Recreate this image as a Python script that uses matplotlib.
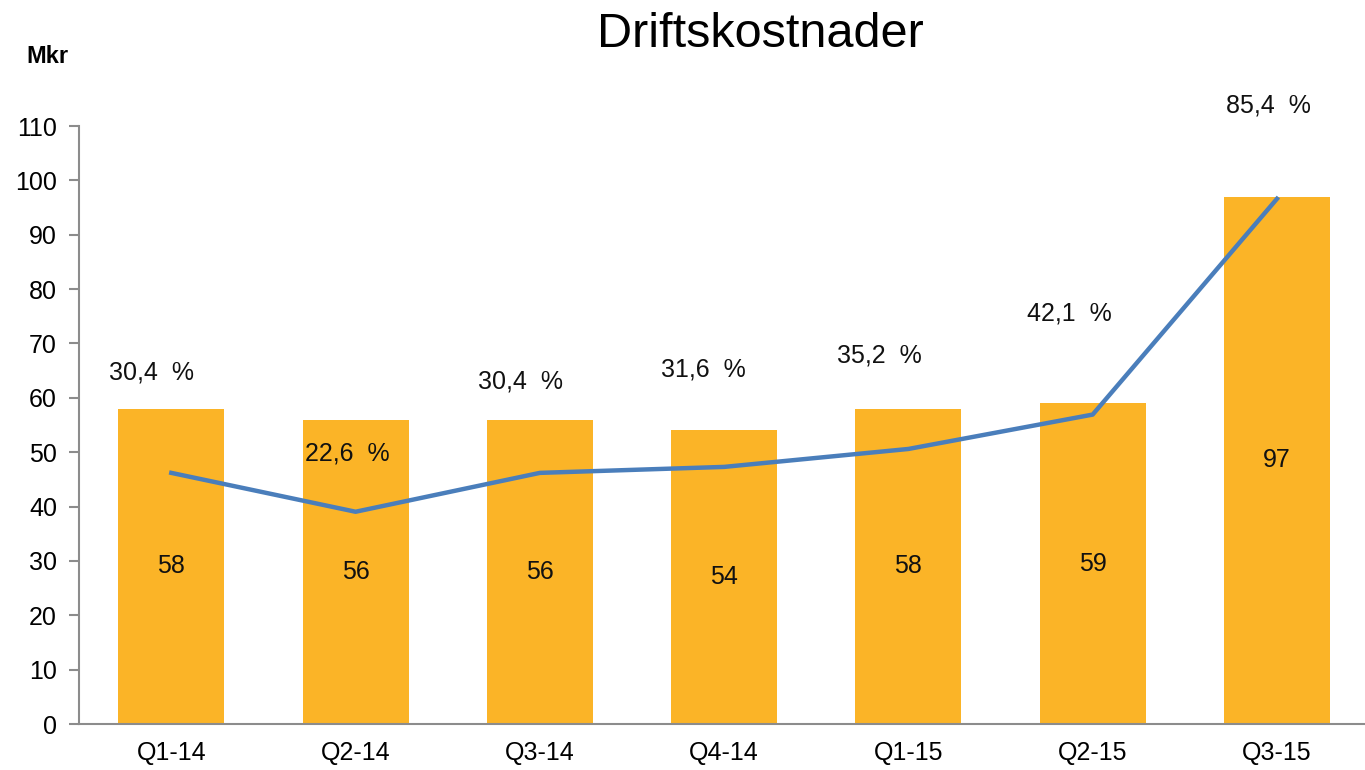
import numpy as np
import matplotlib.pyplot as plt

plt.rcParams['font.family'] = ['Liberation Sans', 'DejaVu Sans']

kvartal = ['Q1-14', 'Q2-14', 'Q3-14', 'Q4-14', 'Q1-15', 'Q2-15', 'Q3-15']
kostnad = [58, 56, 56, 54, 58, 59, 97]
andel = [30.4, 22.6, 30.4, 31.6, 35.2, 42.1, 85.4]
yticks = list(range(0, 111, 10))

# label offsets (points) for the percent labels, as placed in the original
lbl_dx = [-14, -6, -14, -15, -21, -17, -6]
lbl_dy = [72, 42, 66, 70, 67, 73, 67]

fig = plt.figure(figsize=(13.65, 7.7), dpi=100)
ax = fig.add_axes([0.058, 0.0597, 0.945, 0.7766])
x = np.arange(len(kvartal))

ax.bar(x, kostnad, width=0.575, color='#FBB427', zorder=2)
for xi, v in zip(x, kostnad):
    ax.text(xi, v / 2, str(v), ha='center', va='center', fontsize=18, color='#111111', zorder=4)

ax.set_xlim(-0.5, 6.5)
ax.set_ylim(0, 110)
ax.set_yticks(yticks)
ax.set_xticks(x)
ax.set_xticklabels(kvartal)
ax.tick_params(axis='y', length=7, width=1.5, color='#8c8c8c', labelsize=18, pad=9)
ax.tick_params(axis='x', length=0, labelsize=18, pad=12)
for s in ['top', 'right']:
    ax.spines[s].set_visible(False)
for s in ['left', 'bottom']:
    ax.spines[s].set_color('#8c8c8c')
    ax.spines[s].set_linewidth(1.5)

ax2 = ax.twinx()
ax2.set_ylim(-20, 100)
ax2.plot(x, andel, color='#4A7EBB', lw=3.2, zorder=3)
for xi, p, dx, dy in zip(x, andel, lbl_dx, lbl_dy):
    ax2.annotate(f'{p:.1f}'.replace('.', ',') + '  %', (xi, p), xytext=(dx, dy),
                 textcoords='offset points', ha='center', va='center', fontsize=18, color='#111111')
ax2.axis('off')

fig.text(0.557, 0.955, 'Driftskostnader', ha='center', va='center', fontsize=35)
fig.text(0.035, 0.926, 'Mkr', ha='center', va='center', fontsize=17, fontweight='bold')

plt.savefig('out.png', dpi=100)
